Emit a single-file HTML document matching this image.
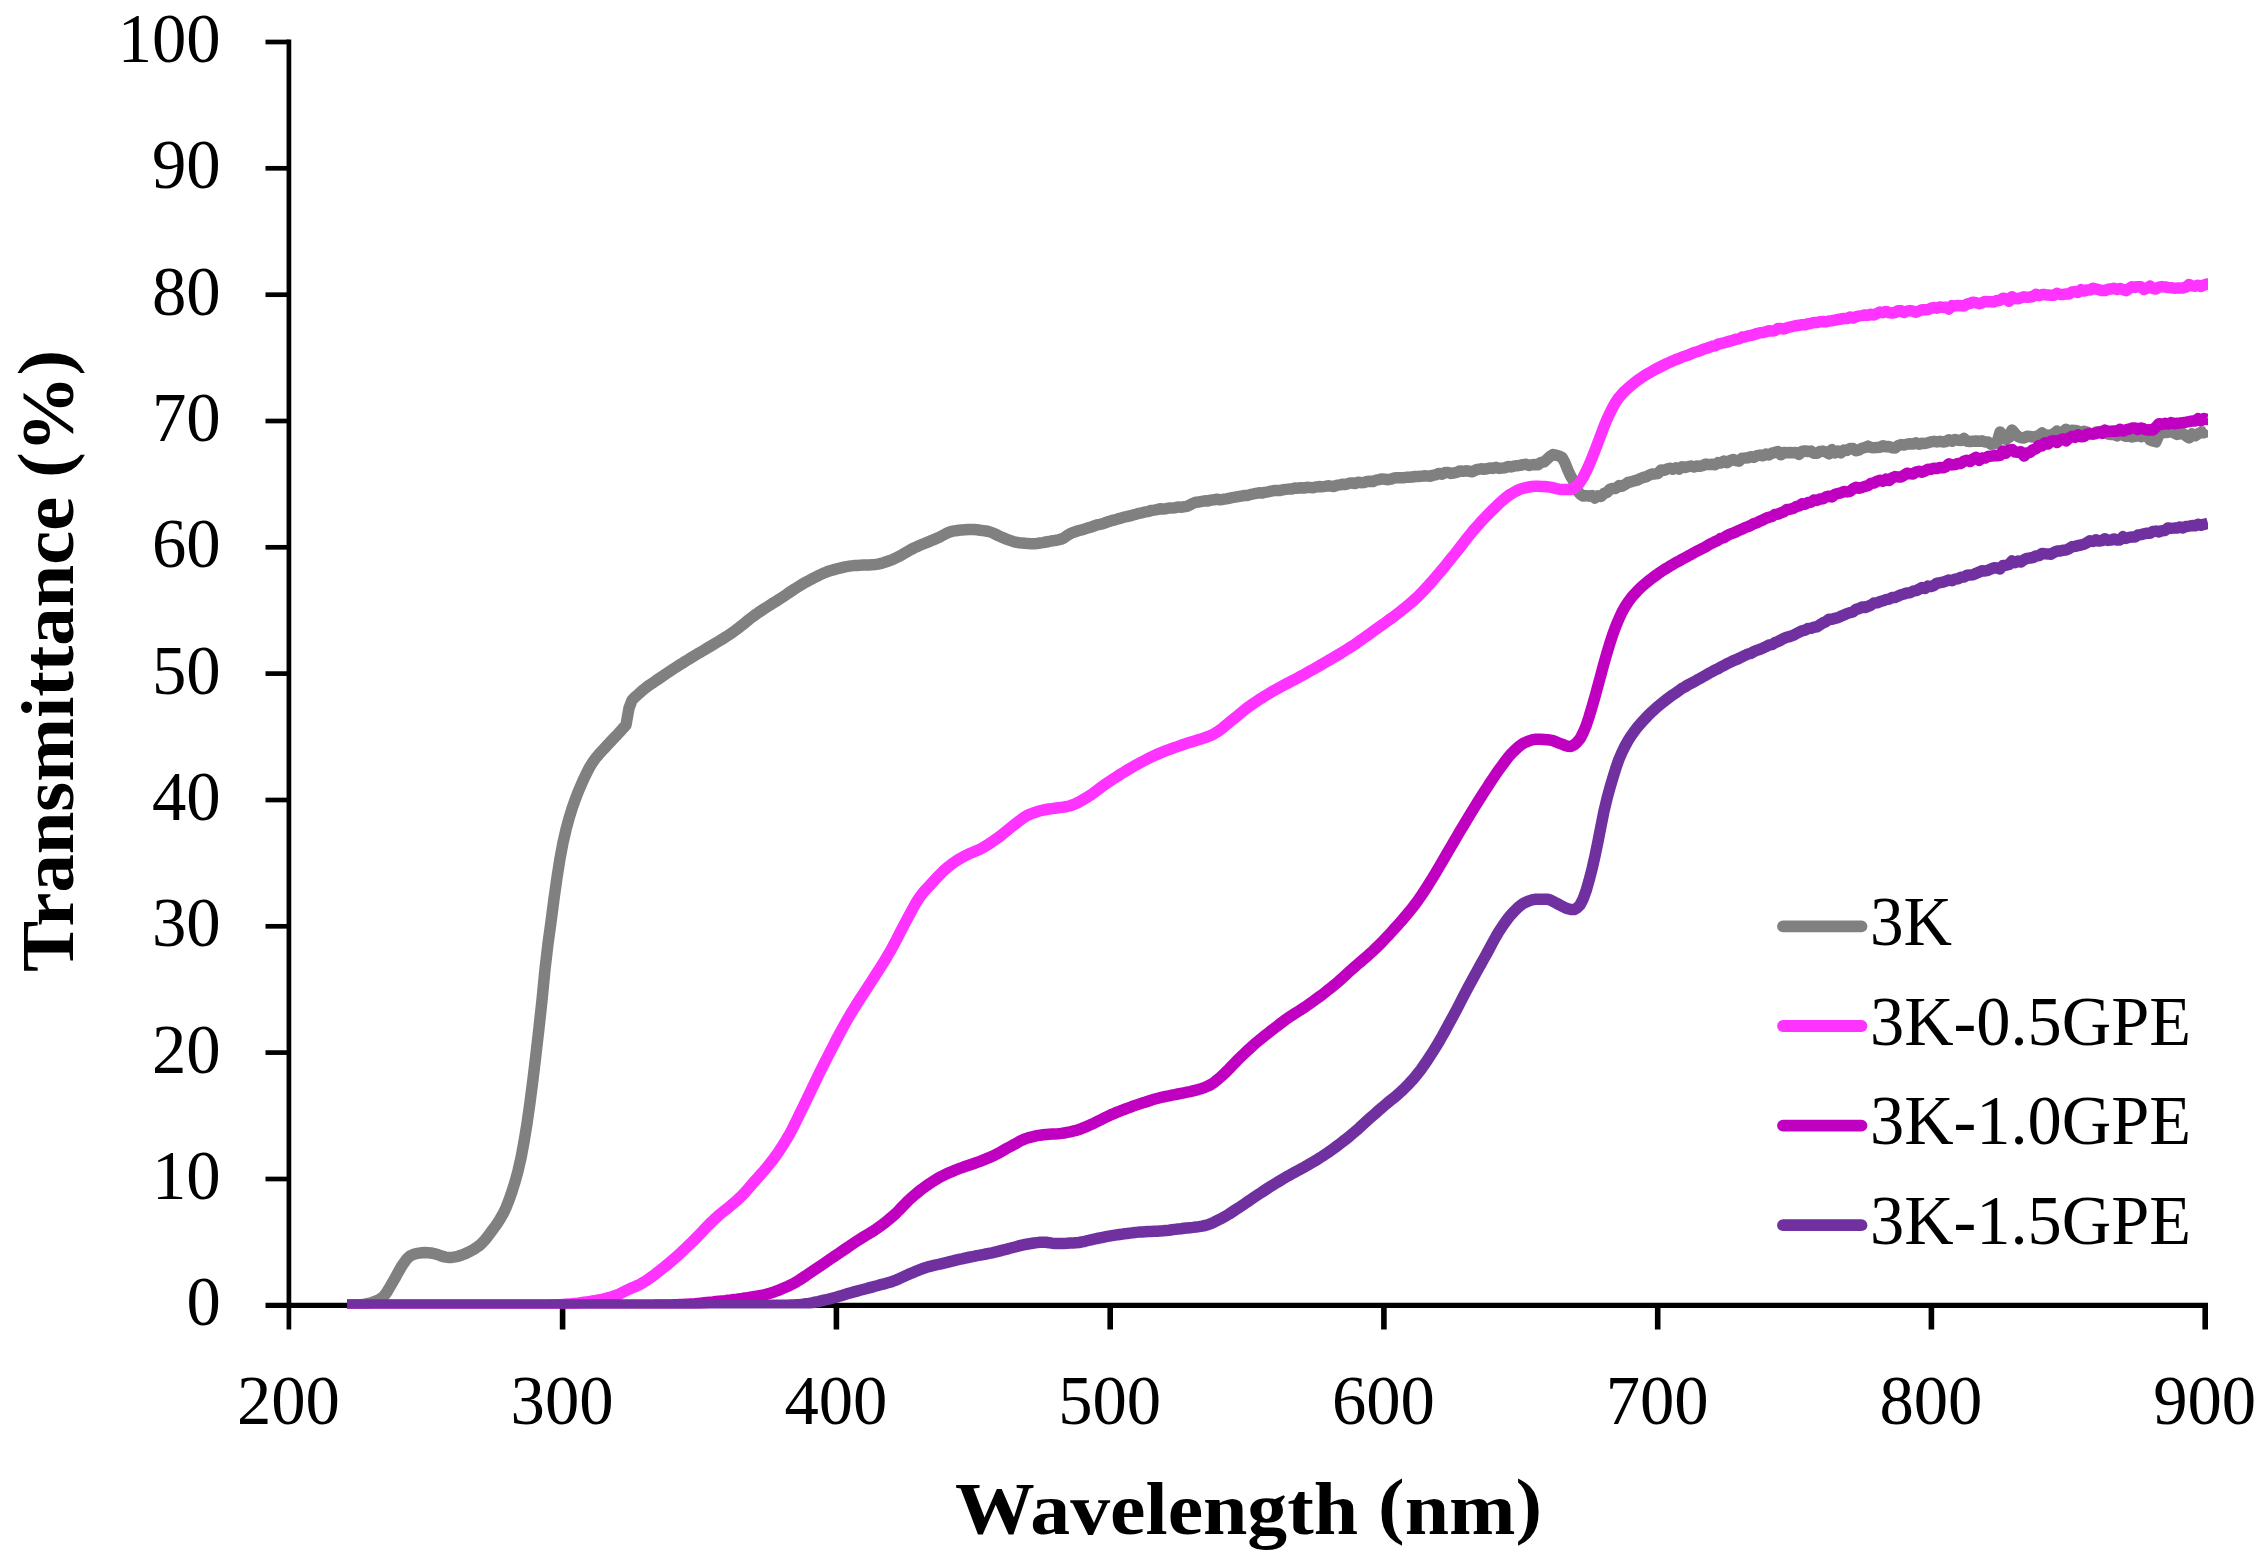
<!DOCTYPE html>
<html lang="en"><head><meta charset="utf-8"><title>Transmittance vs Wavelength</title>
<style>
html,body{margin:0;padding:0;background:#fff;}
body{width:2264px;height:1566px;overflow:hidden;}
svg{display:block;}
text{font-family:"Liberation Serif",serif;fill:#000;}
.tick{font-size:69px;}
.ttl{font-size:75px;font-weight:bold;}
.ax{stroke:#000;stroke-width:4.7;fill:none;}
.c{fill:none;stroke-width:11.5;stroke-linejoin:round;stroke-linecap:butt;}
.lg{stroke-width:11.8;stroke-linecap:round;}
</style></head><body>
<svg width="2264" height="1566" viewBox="0 0 2264 1566">
<rect width="2264" height="1566" fill="#fff"/>
<defs><clipPath id="plot"><rect x="347" y="0" width="1861" height="1308.4"/></clipPath></defs>
<path class="ax" d="M288.9,39.5 V1329.5"/>
<path class="ax" style="stroke-width:5.3" d="M265.5,1305.3 H2208.0"/>
<path class="ax" d="M265.5,1179.0 H288.9"/>
<path class="ax" d="M265.5,1052.6 H288.9"/>
<path class="ax" d="M265.5,926.3 H288.9"/>
<path class="ax" d="M265.5,800.0 H288.9"/>
<path class="ax" d="M265.5,673.6 H288.9"/>
<path class="ax" d="M265.5,547.3 H288.9"/>
<path class="ax" d="M265.5,421.0 H288.9"/>
<path class="ax" d="M265.5,294.7 H288.9"/>
<path class="ax" d="M265.5,168.3 H288.9"/>
<path class="ax" d="M265.5,42.0 H288.9"/>
<path class="ax" style="stroke-width:5.6" d="M562.6,1305.3 V1329.5"/>
<path class="ax" style="stroke-width:5.6" d="M836.4,1305.3 V1329.5"/>
<path class="ax" style="stroke-width:5.6" d="M1110.2,1305.3 V1329.5"/>
<path class="ax" style="stroke-width:5.6" d="M1383.9,1305.3 V1329.5"/>
<path class="ax" style="stroke-width:5.6" d="M1657.7,1305.3 V1329.5"/>
<path class="ax" style="stroke-width:5.6" d="M1931.4,1305.3 V1329.5"/>
<path class="ax" style="stroke-width:5.6" d="M2205.2,1305.3 V1329.5"/>
<text class="tick" x="186.4" y="1325.3" textLength="34.3" lengthAdjust="spacingAndGlyphs">0</text>
<text class="tick" x="152.0" y="1199.0" textLength="68.7" lengthAdjust="spacingAndGlyphs">10</text>
<text class="tick" x="152.0" y="1072.6" textLength="68.7" lengthAdjust="spacingAndGlyphs">20</text>
<text class="tick" x="152.0" y="946.3" textLength="68.7" lengthAdjust="spacingAndGlyphs">30</text>
<text class="tick" x="152.0" y="820.0" textLength="68.7" lengthAdjust="spacingAndGlyphs">40</text>
<text class="tick" x="152.0" y="693.6" textLength="68.7" lengthAdjust="spacingAndGlyphs">50</text>
<text class="tick" x="152.0" y="567.3" textLength="68.7" lengthAdjust="spacingAndGlyphs">60</text>
<text class="tick" x="152.0" y="441.0" textLength="68.7" lengthAdjust="spacingAndGlyphs">70</text>
<text class="tick" x="152.0" y="314.7" textLength="68.7" lengthAdjust="spacingAndGlyphs">80</text>
<text class="tick" x="152.0" y="188.3" textLength="68.7" lengthAdjust="spacingAndGlyphs">90</text>
<text class="tick" x="117.7" y="62.0" textLength="103" lengthAdjust="spacingAndGlyphs">100</text>
<text class="tick" x="236.9" y="1424" textLength="103" lengthAdjust="spacingAndGlyphs">200</text>
<text class="tick" x="510.6" y="1424" textLength="103" lengthAdjust="spacingAndGlyphs">300</text>
<text class="tick" x="784.4" y="1424" textLength="103" lengthAdjust="spacingAndGlyphs">400</text>
<text class="tick" x="1058.2" y="1424" textLength="103" lengthAdjust="spacingAndGlyphs">500</text>
<text class="tick" x="1331.9" y="1424" textLength="103" lengthAdjust="spacingAndGlyphs">600</text>
<text class="tick" x="1605.7" y="1424" textLength="103" lengthAdjust="spacingAndGlyphs">700</text>
<text class="tick" x="1879.4" y="1424" textLength="103" lengthAdjust="spacingAndGlyphs">800</text>
<text class="tick" x="2153.2" y="1424" textLength="103" lengthAdjust="spacingAndGlyphs">900</text>
<text class="ttl" x="955" y="1534" textLength="587" lengthAdjust="spacingAndGlyphs">Wavelength <tspan dy="-4">(</tspan><tspan dy="4">nm</tspan><tspan dy="-4">)</tspan></text>
<text class="ttl" transform="translate(73,972) rotate(-90)" x="0" y="0" textLength="622" lengthAdjust="spacingAndGlyphs">Transmittance <tspan dy="-4">(</tspan><tspan dy="4">%</tspan><tspan dy="-4">)</tspan></text>
<g clip-path="url(#plot)">
<path class="c" stroke="#808080" d="M347.0,1305.3 L350.0,1305.3 L353.0,1305.1 L356.0,1305.0 L359.0,1304.8 L362.0,1304.5 L365.0,1304.1 L368.0,1303.5 L371.0,1302.7 L374.0,1301.8 L377.0,1300.6 L380.0,1299.1 L383.0,1297.1 L386.0,1293.4 L389.0,1288.5 L392.0,1283.3 L395.0,1278.2 L398.0,1272.6 L401.0,1267.3 L404.0,1262.8 L407.0,1258.7 L410.0,1256.0 L413.0,1254.6 L416.0,1253.7 L419.0,1253.1 L422.0,1252.7 L425.0,1252.5 L428.0,1252.7 L431.0,1253.0 L434.0,1253.6 L437.0,1254.3 L440.0,1255.5 L443.0,1256.5 L446.0,1257.1 L449.0,1257.5 L452.0,1257.4 L455.0,1256.9 L458.0,1256.3 L461.0,1255.3 L464.0,1254.2 L467.0,1252.9 L470.0,1251.4 L473.0,1249.8 L476.0,1247.9 L479.0,1245.8 L482.0,1243.2 L485.0,1239.9 L488.0,1236.1 L491.0,1232.0 L494.0,1228.0 L497.0,1223.8 L500.0,1219.2 L503.0,1213.9 L506.0,1207.7 L509.0,1200.1 L512.0,1191.5 L515.0,1181.9 L518.0,1170.9 L521.0,1157.9 L524.0,1141.9 L527.0,1123.6 L530.0,1102.5 L533.0,1079.2 L536.0,1054.0 L539.0,1027.8 L542.0,1000.1 L545.0,969.2 L548.0,943.6 L551.0,921.9 L554.0,898.8 L557.0,877.5 L560.0,858.5 L563.0,842.6 L566.0,829.6 L569.0,818.4 L572.0,808.7 L575.0,800.1 L578.0,792.3 L581.0,785.2 L584.0,778.4 L587.0,772.2 L590.0,766.5 L593.0,761.8 L596.0,757.7 L599.0,754.2 L602.0,750.9 L605.0,747.7 L608.0,744.4 L611.0,741.2 L614.0,738.1 L617.0,735.0 L620.0,731.7 L623.0,728.2 L626.0,725.0 L629.0,708.1 L632.0,700.2 L635.0,697.1 L638.0,694.5 L641.0,691.8 L644.0,689.2 L647.0,686.9 L650.0,684.7 L653.0,682.7 L656.0,680.6 L659.0,678.6 L662.0,676.6 L665.0,674.5 L668.0,672.5 L671.0,670.5 L674.0,668.5 L677.0,666.6 L680.0,664.7 L683.0,662.8 L686.0,660.9 L689.0,659.1 L692.0,657.2 L695.0,655.4 L698.0,653.6 L701.0,651.9 L704.0,650.1 L707.0,648.3 L710.0,646.5 L713.0,644.7 L716.0,642.9 L719.0,641.1 L722.0,639.3 L725.0,637.4 L728.0,635.5 L731.0,633.5 L734.0,631.4 L737.0,629.2 L740.0,626.8 L743.0,624.4 L746.0,622.0 L749.0,619.5 L752.0,617.2 L755.0,615.0 L758.0,612.9 L761.0,610.9 L764.0,608.9 L767.0,607.0 L770.0,605.1 L773.0,603.2 L776.0,601.3 L779.0,599.4 L782.0,597.5 L785.0,595.5 L788.0,593.4 L791.0,591.4 L794.0,589.4 L797.0,587.5 L800.0,585.6 L803.0,583.8 L806.0,582.1 L809.0,580.5 L812.0,578.9 L815.0,577.3 L818.0,575.8 L821.0,574.4 L824.0,573.0 L827.0,571.8 L830.0,570.8 L833.0,569.9 L836.0,569.1 L839.0,568.3 L842.0,567.6 L845.0,566.9 L848.0,566.4 L851.0,565.9 L854.0,565.6 L857.0,565.4 L860.0,565.2 L863.0,565.1 L866.0,565.0 L869.0,564.9 L872.0,564.7 L875.0,564.5 L878.0,564.1 L881.0,563.4 L884.0,562.5 L887.0,561.5 L890.0,560.5 L893.0,559.3 L896.0,557.9 L899.0,556.4 L902.0,554.7 L905.0,552.9 L908.0,551.2 L911.0,549.5 L914.0,548.0 L917.0,546.6 L920.0,545.3 L923.0,544.0 L926.0,542.8 L929.0,541.6 L932.0,540.3 L935.0,539.1 L938.0,537.8 L941.0,536.3 L944.0,534.7 L947.0,533.1 L950.0,531.9 L953.0,531.2 L956.0,530.7 L959.0,530.3 L962.0,529.9 L965.0,529.7 L968.0,529.5 L971.0,529.5 L974.0,529.6 L977.0,529.8 L980.0,530.2 L983.0,530.6 L986.0,531.0 L989.0,531.6 L992.0,532.6 L995.0,534.0 L998.0,535.5 L1001.0,536.9 L1004.0,538.1 L1007.0,539.3 L1010.0,540.4 L1013.0,541.4 L1016.0,542.3 L1019.0,542.7 L1022.0,543.1 L1025.0,543.3 L1028.0,543.6 L1031.0,543.7 L1034.0,543.7 L1037.0,543.5 L1040.0,543.0 L1043.0,542.6 L1046.0,542.0 L1049.0,541.5 L1052.0,540.8 L1055.0,540.5 L1058.0,539.9 L1061.0,539.2 L1064.0,537.9 L1067.0,535.7 L1070.0,533.8 L1073.0,532.5 L1076.0,531.5 L1079.0,530.5 L1082.0,529.8 L1085.0,528.9 L1088.0,527.8 L1091.0,527.1 L1094.0,526.0 L1097.0,524.9 L1100.0,524.3 L1103.0,523.6 L1106.0,522.5 L1109.0,521.4 L1112.0,520.5 L1115.0,519.9 L1118.0,518.9 L1121.0,518.1 L1124.0,517.2 L1127.0,516.5 L1130.0,515.9 L1133.0,515.0 L1136.0,514.2 L1139.0,513.3 L1142.0,512.8 L1145.0,511.9 L1148.0,511.6 L1151.0,510.5 L1154.0,510.1 L1157.0,509.6 L1160.0,508.8 L1163.0,509.0 L1166.0,508.7 L1169.0,508.0 L1172.0,508.0 L1175.0,507.8 L1178.0,506.9 L1181.0,507.2 L1184.0,506.8 L1187.0,506.4 L1190.0,504.9 L1193.0,503.3 L1196.0,502.2 L1199.0,502.0 L1202.0,501.3 L1205.0,500.8 L1208.0,500.9 L1211.0,500.1 L1214.0,499.8 L1217.0,499.2 L1220.0,499.8 L1223.0,499.3 L1226.0,498.9 L1229.0,498.3 L1232.0,497.7 L1235.0,497.2 L1238.0,496.6 L1241.0,496.1 L1244.0,495.6 L1247.0,495.5 L1250.0,494.7 L1253.0,494.0 L1256.0,493.3 L1259.0,492.8 L1262.0,493.1 L1265.0,492.3 L1268.0,491.8 L1271.0,491.2 L1274.0,490.6 L1277.0,490.5 L1280.0,490.5 L1283.0,489.7 L1286.0,489.4 L1289.0,489.1 L1292.0,488.9 L1295.0,488.0 L1298.0,488.2 L1301.0,487.7 L1304.0,488.1 L1307.0,487.3 L1310.0,487.6 L1313.0,487.8 L1316.0,486.9 L1319.0,486.6 L1322.0,486.7 L1325.0,486.4 L1328.0,485.8 L1331.0,486.1 L1334.0,486.5 L1337.0,485.2 L1340.0,484.9 L1343.0,484.2 L1346.0,484.4 L1349.0,483.3 L1352.0,482.9 L1355.0,483.6 L1358.0,482.2 L1361.0,482.7 L1364.0,482.5 L1367.0,481.5 L1370.0,481.2 L1373.0,481.5 L1376.0,480.1 L1379.0,479.6 L1382.0,478.9 L1385.0,479.3 L1388.0,479.7 L1391.0,479.2 L1394.0,478.0 L1397.0,477.8 L1400.0,477.7 L1403.0,477.8 L1406.0,477.3 L1409.0,477.3 L1412.0,477.1 L1415.0,476.5 L1418.0,476.4 L1421.0,476.3 L1424.0,475.8 L1427.0,475.9 L1430.0,476.3 L1433.0,475.3 L1436.0,474.7 L1439.0,473.4 L1442.0,474.2 L1445.0,472.6 L1448.0,472.5 L1451.0,473.4 L1454.0,473.0 L1457.0,472.2 L1460.0,470.9 L1463.0,471.3 L1466.0,470.8 L1469.0,471.2 L1472.0,471.8 L1475.0,470.3 L1478.0,469.3 L1481.0,468.8 L1484.0,469.2 L1487.0,468.8 L1490.0,467.9 L1493.0,468.4 L1496.0,467.3 L1499.0,468.4 L1502.0,468.1 L1505.0,467.8 L1508.0,466.5 L1511.0,466.9 L1514.0,466.2 L1517.0,465.7 L1520.0,465.4 L1523.0,464.6 L1526.0,464.3 L1529.0,465.5 L1532.0,464.7 L1535.0,464.6 L1538.0,464.8 L1541.0,462.4 L1544.0,461.9 L1547.0,459.2 L1550.0,456.5 L1553.0,454.5 L1556.0,455.2 L1559.0,456.0 L1562.0,457.4 L1565.0,462.8 L1568.0,470.3 L1571.0,476.8 L1574.0,481.6 L1577.0,490.3 L1580.0,493.9 L1583.0,495.9 L1586.0,495.7 L1589.0,496.2 L1592.0,495.6 L1595.0,498.1 L1598.0,495.7 L1601.0,496.5 L1604.0,493.5 L1607.0,492.4 L1610.0,489.1 L1613.0,488.5 L1616.0,488.4 L1619.0,485.6 L1622.0,486.3 L1625.0,484.6 L1628.0,482.5 L1631.0,481.9 L1634.0,480.9 L1637.0,480.2 L1640.0,478.8 L1643.0,477.5 L1646.0,476.9 L1649.0,475.3 L1652.0,474.0 L1655.0,473.9 L1658.0,473.5 L1661.0,470.1 L1664.0,470.3 L1667.0,469.1 L1670.0,468.2 L1673.0,469.3 L1676.0,467.7 L1679.0,469.1 L1682.0,466.8 L1685.0,467.5 L1688.0,466.7 L1691.0,466.0 L1694.0,466.9 L1697.0,466.0 L1700.0,466.3 L1703.0,465.4 L1706.0,464.1 L1709.0,464.6 L1712.0,464.3 L1715.0,464.7 L1718.0,462.6 L1721.0,463.0 L1724.0,461.0 L1727.0,462.7 L1730.0,460.7 L1733.0,459.5 L1736.0,460.6 L1739.0,461.2 L1742.0,458.2 L1745.0,458.0 L1748.0,457.7 L1751.0,456.7 L1754.0,457.4 L1757.0,455.6 L1760.0,455.1 L1763.0,455.8 L1766.0,454.1 L1769.0,454.9 L1772.0,453.1 L1775.0,452.5 L1778.0,451.5 L1781.0,454.8 L1784.0,452.4 L1787.0,452.8 L1790.0,452.5 L1793.0,452.7 L1796.0,452.5 L1799.0,454.4 L1802.0,451.5 L1805.0,450.9 L1808.0,451.5 L1811.0,451.1 L1814.0,453.3 L1817.0,453.3 L1820.0,451.5 L1823.0,451.1 L1826.0,452.1 L1829.0,453.9 L1832.0,449.6 L1835.0,452.9 L1838.0,451.0 L1841.0,452.8 L1844.0,450.1 L1847.0,450.4 L1850.0,448.5 L1853.0,448.6 L1856.0,450.8 L1859.0,449.9 L1862.0,448.3 L1865.0,447.5 L1868.0,446.1 L1871.0,447.5 L1874.0,447.7 L1877.0,447.4 L1880.0,447.2 L1883.0,445.8 L1886.0,446.8 L1889.0,446.5 L1892.0,447.8 L1895.0,448.1 L1898.0,445.6 L1901.0,444.6 L1904.0,445.1 L1907.0,444.1 L1910.0,443.7 L1913.0,444.1 L1916.0,442.7 L1919.0,444.3 L1922.0,443.3 L1925.0,443.5 L1928.0,442.7 L1931.0,441.8 L1934.0,441.3 L1937.0,441.9 L1940.0,441.3 L1943.0,442.0 L1946.0,441.5 L1949.0,439.7 L1952.0,441.3 L1955.0,439.5 L1958.0,440.3 L1961.0,440.6 L1964.0,438.5 L1967.0,441.2 L1970.0,441.4 L1973.0,441.2 L1976.0,441.0 L1979.0,441.3 L1982.0,440.8 L1985.0,442.0 L1988.0,442.0 L1991.0,444.3 L1994.0,444.1 L1997.0,442.3 L2000.0,432.0 L2003.0,435.1 L2006.0,439.4 L2009.0,437.5 L2012.0,430.0 L2015.0,433.5 L2018.0,436.5 L2021.0,437.8 L2024.0,437.9 L2027.0,436.3 L2030.0,436.5 L2033.0,437.1 L2036.0,436.4 L2039.0,435.6 L2042.0,432.9 L2045.0,435.0 L2048.0,435.4 L2051.0,434.8 L2054.0,433.6 L2057.0,431.1 L2060.0,434.0 L2063.0,432.5 L2066.0,429.3 L2069.0,432.8 L2072.0,430.3 L2075.0,430.4 L2078.0,431.1 L2081.0,433.4 L2084.0,431.3 L2087.0,432.0 L2090.0,433.9 L2093.0,433.9 L2096.0,432.0 L2099.0,432.2 L2102.0,431.2 L2105.0,432.3 L2108.0,434.1 L2111.0,434.5 L2114.0,434.5 L2117.0,435.9 L2120.0,434.0 L2123.0,435.1 L2126.0,436.3 L2129.0,436.2 L2132.0,437.0 L2135.0,436.3 L2138.0,435.6 L2141.0,436.7 L2144.0,435.3 L2147.0,435.2 L2150.0,439.9 L2153.0,441.0 L2156.0,441.8 L2159.0,434.7 L2162.0,432.8 L2165.0,432.6 L2168.0,432.2 L2171.0,430.5 L2174.0,432.9 L2177.0,434.4 L2180.0,433.9 L2183.0,433.6 L2186.0,435.7 L2189.0,437.9 L2192.0,434.0 L2195.0,435.8 L2198.0,433.9 L2201.0,432.3 L2204.0,432.7 L2207.0,431.5 L2208.0,430.4"/>
<path class="c" stroke="#ff33ff" d="M347.0,1305.3 L350.0,1305.3 L353.0,1305.3 L356.0,1305.3 L359.0,1305.3 L362.0,1305.3 L365.0,1305.3 L368.0,1305.3 L371.0,1305.3 L374.0,1305.3 L377.0,1305.3 L380.0,1305.3 L383.0,1305.3 L386.0,1305.3 L389.0,1305.3 L392.0,1305.3 L395.0,1305.3 L398.0,1305.3 L401.0,1305.3 L404.0,1305.3 L407.0,1305.3 L410.0,1305.3 L413.0,1305.3 L416.0,1305.3 L419.0,1305.3 L422.0,1305.3 L425.0,1305.3 L428.0,1305.3 L431.0,1305.3 L434.0,1305.3 L437.0,1305.3 L440.0,1305.3 L443.0,1305.3 L446.0,1305.3 L449.0,1305.3 L452.0,1305.3 L455.0,1305.3 L458.0,1305.3 L461.0,1305.3 L464.0,1305.3 L467.0,1305.3 L470.0,1305.3 L473.0,1305.3 L476.0,1305.3 L479.0,1305.3 L482.0,1305.3 L485.0,1305.3 L488.0,1305.3 L491.0,1305.3 L494.0,1305.3 L497.0,1305.3 L500.0,1305.3 L503.0,1305.3 L506.0,1305.3 L509.0,1305.3 L512.0,1305.3 L515.0,1305.3 L518.0,1305.3 L521.0,1305.3 L524.0,1305.3 L527.0,1305.3 L530.0,1305.3 L533.0,1305.3 L536.0,1305.3 L539.0,1305.3 L542.0,1305.3 L545.0,1305.3 L548.0,1305.2 L551.0,1305.1 L554.0,1305.0 L557.0,1304.8 L560.0,1304.7 L563.0,1304.5 L566.0,1304.3 L569.0,1304.1 L572.0,1303.8 L575.0,1303.4 L578.0,1303.1 L581.0,1302.7 L584.0,1302.3 L587.0,1301.9 L590.0,1301.5 L593.0,1301.0 L596.0,1300.5 L599.0,1299.9 L602.0,1299.3 L605.0,1298.6 L608.0,1297.8 L611.0,1297.0 L614.0,1296.1 L617.0,1295.0 L620.0,1293.7 L623.0,1292.2 L626.0,1290.7 L629.0,1289.2 L632.0,1287.8 L635.0,1286.6 L638.0,1285.3 L641.0,1283.8 L644.0,1282.0 L647.0,1280.1 L650.0,1278.0 L653.0,1275.8 L656.0,1273.6 L659.0,1271.2 L662.0,1268.8 L665.0,1266.5 L668.0,1264.0 L671.0,1261.5 L674.0,1258.9 L677.0,1256.2 L680.0,1253.5 L683.0,1250.7 L686.0,1247.9 L689.0,1245.0 L692.0,1242.1 L695.0,1239.1 L698.0,1236.0 L701.0,1232.9 L704.0,1229.7 L707.0,1226.6 L710.0,1223.5 L713.0,1220.6 L716.0,1217.8 L719.0,1215.2 L722.0,1212.7 L725.0,1210.3 L728.0,1207.9 L731.0,1205.4 L734.0,1202.9 L737.0,1200.3 L740.0,1197.5 L743.0,1194.4 L746.0,1191.2 L749.0,1187.8 L752.0,1184.3 L755.0,1180.9 L758.0,1177.5 L761.0,1174.1 L764.0,1170.7 L767.0,1167.1 L770.0,1163.4 L773.0,1159.6 L776.0,1155.5 L779.0,1151.2 L782.0,1146.6 L785.0,1141.8 L788.0,1136.8 L791.0,1131.5 L794.0,1125.6 L797.0,1119.5 L800.0,1113.3 L803.0,1107.2 L806.0,1101.0 L809.0,1094.7 L812.0,1088.5 L815.0,1082.2 L818.0,1076.0 L821.0,1069.9 L824.0,1063.9 L827.0,1058.0 L830.0,1052.1 L833.0,1046.3 L836.0,1040.5 L839.0,1034.8 L842.0,1029.2 L845.0,1023.8 L848.0,1018.4 L851.0,1013.3 L854.0,1008.4 L857.0,1003.6 L860.0,999.0 L863.0,994.4 L866.0,989.8 L869.0,985.2 L872.0,980.5 L875.0,975.8 L878.0,971.2 L881.0,966.5 L884.0,961.7 L887.0,956.8 L890.0,951.7 L893.0,946.3 L896.0,940.6 L899.0,934.7 L902.0,928.9 L905.0,923.1 L908.0,917.6 L911.0,912.0 L914.0,906.4 L917.0,901.2 L920.0,896.7 L923.0,892.8 L926.0,889.4 L929.0,886.2 L932.0,883.0 L935.0,879.7 L938.0,876.5 L941.0,873.4 L944.0,870.4 L947.0,867.8 L950.0,865.4 L953.0,863.2 L956.0,861.1 L959.0,859.2 L962.0,857.5 L965.0,855.8 L968.0,854.3 L971.0,853.0 L974.0,851.8 L977.0,850.5 L980.0,849.2 L983.0,847.6 L986.0,845.8 L989.0,843.9 L992.0,841.9 L995.0,839.8 L998.0,837.7 L1001.0,835.5 L1004.0,833.1 L1007.0,830.6 L1010.0,828.1 L1013.0,825.7 L1016.0,823.5 L1019.0,821.1 L1022.0,818.9 L1025.0,816.8 L1028.0,815.1 L1031.0,813.8 L1034.0,812.7 L1037.0,811.7 L1040.0,810.8 L1043.0,810.1 L1046.0,809.5 L1049.0,809.0 L1052.0,808.6 L1055.0,808.2 L1058.0,807.8 L1061.0,807.4 L1064.0,807.0 L1067.0,806.5 L1070.0,805.8 L1073.0,804.8 L1076.0,803.5 L1079.0,802.0 L1082.0,800.3 L1085.0,798.5 L1088.0,796.7 L1091.0,794.8 L1094.0,792.6 L1097.0,790.4 L1100.0,788.1 L1103.0,785.9 L1106.0,783.8 L1109.0,781.8 L1112.0,779.8 L1115.0,777.8 L1118.0,775.9 L1121.0,773.9 L1124.0,772.1 L1127.0,770.3 L1130.0,768.5 L1133.0,766.8 L1136.0,765.1 L1139.0,763.4 L1142.0,761.8 L1145.0,760.2 L1148.0,758.6 L1151.0,757.1 L1154.0,755.7 L1157.0,754.4 L1160.0,753.1 L1163.0,751.9 L1166.0,750.7 L1169.0,749.6 L1172.0,748.5 L1175.0,747.4 L1178.0,746.4 L1181.0,745.3 L1184.0,744.3 L1187.0,743.2 L1190.0,742.3 L1193.0,741.4 L1196.0,740.5 L1199.0,739.6 L1202.0,738.7 L1205.0,737.6 L1208.0,736.5 L1211.0,735.3 L1214.0,733.8 L1217.0,732.1 L1220.0,730.0 L1223.0,727.7 L1226.0,725.2 L1229.0,722.7 L1232.0,720.2 L1235.0,717.9 L1238.0,715.4 L1241.0,712.9 L1244.0,710.4 L1247.0,708.0 L1250.0,705.8 L1253.0,703.7 L1256.0,701.7 L1259.0,699.7 L1262.0,697.8 L1265.0,695.9 L1268.0,694.1 L1271.0,692.3 L1274.0,690.6 L1277.0,688.9 L1280.0,687.2 L1283.0,685.6 L1286.0,684.0 L1289.0,682.5 L1292.0,680.9 L1295.0,679.4 L1298.0,677.8 L1301.0,676.1 L1304.0,674.5 L1307.0,672.8 L1310.0,671.1 L1313.0,669.4 L1316.0,667.7 L1319.0,666.0 L1322.0,664.2 L1325.0,662.5 L1328.0,660.8 L1331.0,659.0 L1334.0,657.3 L1337.0,655.5 L1340.0,653.7 L1343.0,651.9 L1346.0,650.0 L1349.0,648.1 L1352.0,646.2 L1355.0,644.2 L1358.0,642.1 L1361.0,640.0 L1364.0,637.9 L1367.0,635.8 L1370.0,633.6 L1373.0,631.4 L1376.0,629.3 L1379.0,627.1 L1382.0,625.0 L1385.0,622.9 L1388.0,620.7 L1391.0,618.5 L1394.0,616.3 L1397.0,614.0 L1400.0,611.7 L1403.0,609.3 L1406.0,606.9 L1409.0,604.4 L1412.0,601.8 L1415.0,599.2 L1418.0,596.3 L1421.0,593.4 L1424.0,590.2 L1427.0,587.0 L1430.0,583.6 L1433.0,580.2 L1436.0,576.8 L1439.0,573.3 L1442.0,569.7 L1445.0,566.1 L1448.0,562.4 L1451.0,558.7 L1454.0,555.0 L1457.0,551.2 L1460.0,547.4 L1463.0,543.5 L1466.0,539.6 L1469.0,535.8 L1472.0,532.1 L1475.0,528.6 L1478.0,525.2 L1481.0,521.8 L1484.0,518.6 L1487.0,515.5 L1490.0,512.4 L1493.0,509.5 L1496.0,506.6 L1499.0,503.7 L1502.0,500.9 L1505.0,498.3 L1508.0,495.9 L1511.0,493.9 L1514.0,492.2 L1517.0,490.6 L1520.0,489.3 L1523.0,488.3 L1526.0,487.6 L1529.0,487.0 L1532.0,486.5 L1535.0,486.3 L1538.0,486.3 L1541.0,486.4 L1544.0,486.5 L1547.0,486.8 L1550.0,487.1 L1553.0,487.7 L1556.0,488.6 L1559.0,489.2 L1562.0,489.4 L1565.0,489.4 L1568.0,489.4 L1571.0,489.4 L1574.0,488.3 L1577.0,485.6 L1580.0,482.3 L1583.0,477.5 L1586.0,471.7 L1589.0,465.3 L1592.0,458.0 L1595.0,450.4 L1598.0,442.5 L1601.0,434.5 L1604.0,426.5 L1607.0,419.3 L1610.0,412.9 L1613.0,406.9 L1616.0,401.7 L1619.0,397.4 L1622.0,393.9 L1625.0,390.9 L1628.0,388.1 L1631.0,385.6 L1634.0,383.1 L1637.0,380.8 L1640.0,378.7 L1643.0,376.6 L1646.0,374.7 L1649.0,372.9 L1652.0,371.2 L1655.0,369.5 L1658.0,368.0 L1661.0,366.5 L1664.0,365.0 L1667.0,363.5 L1670.0,362.1 L1673.0,360.9 L1676.0,359.5 L1679.0,358.5 L1682.0,357.1 L1685.0,356.1 L1688.0,355.1 L1691.0,353.9 L1694.0,352.5 L1697.0,351.7 L1700.0,350.8 L1703.0,349.4 L1706.0,348.4 L1709.0,347.5 L1712.0,346.3 L1715.0,345.9 L1718.0,344.2 L1721.0,343.5 L1724.0,342.8 L1727.0,341.9 L1730.0,341.1 L1733.0,340.3 L1736.0,339.3 L1739.0,338.9 L1742.0,337.1 L1745.0,336.9 L1748.0,335.9 L1751.0,335.4 L1754.0,334.6 L1757.0,333.5 L1760.0,332.8 L1763.0,332.6 L1766.0,331.7 L1769.0,330.7 L1772.0,331.1 L1775.0,330.6 L1778.0,328.5 L1781.0,328.6 L1784.0,329.0 L1787.0,327.8 L1790.0,327.0 L1793.0,326.3 L1796.0,325.7 L1799.0,325.3 L1802.0,324.7 L1805.0,324.8 L1808.0,323.8 L1811.0,323.3 L1814.0,322.4 L1817.0,322.6 L1820.0,321.7 L1823.0,321.6 L1826.0,321.8 L1829.0,321.0 L1832.0,320.7 L1835.0,320.1 L1838.0,319.5 L1841.0,319.0 L1844.0,318.4 L1847.0,318.6 L1850.0,317.0 L1853.0,318.1 L1856.0,316.8 L1859.0,315.9 L1862.0,315.6 L1865.0,315.0 L1868.0,315.2 L1871.0,314.2 L1874.0,315.1 L1877.0,313.4 L1880.0,312.0 L1883.0,312.7 L1886.0,311.4 L1889.0,312.6 L1892.0,313.1 L1895.0,312.5 L1898.0,310.7 L1901.0,310.8 L1904.0,312.5 L1907.0,311.1 L1910.0,310.6 L1913.0,311.2 L1916.0,312.2 L1919.0,311.0 L1922.0,309.7 L1925.0,309.7 L1928.0,309.6 L1931.0,308.2 L1934.0,307.5 L1937.0,308.2 L1940.0,306.9 L1943.0,307.4 L1946.0,307.2 L1949.0,309.0 L1952.0,305.6 L1955.0,305.9 L1958.0,305.5 L1961.0,305.7 L1964.0,306.0 L1967.0,304.1 L1970.0,303.4 L1973.0,302.2 L1976.0,302.6 L1979.0,303.7 L1982.0,302.9 L1985.0,301.4 L1988.0,301.7 L1991.0,301.8 L1994.0,301.9 L1997.0,300.4 L2000.0,300.4 L2003.0,298.3 L2006.0,298.7 L2009.0,301.3 L2012.0,296.8 L2015.0,298.5 L2018.0,298.7 L2021.0,297.7 L2024.0,296.8 L2027.0,297.3 L2030.0,297.0 L2033.0,296.5 L2036.0,294.2 L2039.0,295.7 L2042.0,294.6 L2045.0,294.6 L2048.0,295.1 L2051.0,295.2 L2054.0,295.2 L2057.0,293.3 L2060.0,294.5 L2063.0,294.4 L2066.0,294.0 L2069.0,294.0 L2072.0,291.9 L2075.0,291.6 L2078.0,292.4 L2081.0,289.6 L2084.0,291.1 L2087.0,290.0 L2090.0,290.0 L2093.0,288.2 L2096.0,289.0 L2099.0,289.8 L2102.0,290.6 L2105.0,290.6 L2108.0,289.3 L2111.0,289.0 L2114.0,288.2 L2117.0,289.5 L2120.0,288.6 L2123.0,289.5 L2126.0,290.6 L2129.0,288.6 L2132.0,286.8 L2135.0,287.4 L2138.0,286.7 L2141.0,286.8 L2144.0,289.5 L2147.0,288.2 L2150.0,286.1 L2153.0,288.4 L2156.0,289.0 L2159.0,287.1 L2162.0,286.6 L2165.0,286.9 L2168.0,287.5 L2171.0,287.7 L2174.0,288.2 L2177.0,288.1 L2180.0,287.9 L2183.0,288.0 L2186.0,287.1 L2189.0,284.5 L2192.0,285.9 L2195.0,286.2 L2198.0,285.2 L2201.0,286.5 L2204.0,284.9 L2207.0,284.0 L2208.0,286.6"/>
<path class="c" stroke="#c000c0" d="M347.0,1305.3 L350.0,1305.3 L353.0,1305.3 L356.0,1305.3 L359.0,1305.3 L362.0,1305.3 L365.0,1305.3 L368.0,1305.3 L371.0,1305.3 L374.0,1305.3 L377.0,1305.3 L380.0,1305.3 L383.0,1305.3 L386.0,1305.3 L389.0,1305.3 L392.0,1305.3 L395.0,1305.3 L398.0,1305.3 L401.0,1305.3 L404.0,1305.3 L407.0,1305.3 L410.0,1305.3 L413.0,1305.3 L416.0,1305.3 L419.0,1305.3 L422.0,1305.3 L425.0,1305.3 L428.0,1305.3 L431.0,1305.3 L434.0,1305.3 L437.0,1305.3 L440.0,1305.3 L443.0,1305.3 L446.0,1305.3 L449.0,1305.3 L452.0,1305.3 L455.0,1305.3 L458.0,1305.3 L461.0,1305.3 L464.0,1305.3 L467.0,1305.3 L470.0,1305.3 L473.0,1305.3 L476.0,1305.3 L479.0,1305.3 L482.0,1305.3 L485.0,1305.3 L488.0,1305.3 L491.0,1305.3 L494.0,1305.3 L497.0,1305.3 L500.0,1305.3 L503.0,1305.3 L506.0,1305.3 L509.0,1305.3 L512.0,1305.3 L515.0,1305.3 L518.0,1305.3 L521.0,1305.3 L524.0,1305.3 L527.0,1305.3 L530.0,1305.3 L533.0,1305.3 L536.0,1305.3 L539.0,1305.3 L542.0,1305.3 L545.0,1305.3 L548.0,1305.3 L551.0,1305.3 L554.0,1305.3 L557.0,1305.3 L560.0,1305.3 L563.0,1305.3 L566.0,1305.3 L569.0,1305.3 L572.0,1305.3 L575.0,1305.3 L578.0,1305.3 L581.0,1305.3 L584.0,1305.3 L587.0,1305.3 L590.0,1305.3 L593.0,1305.3 L596.0,1305.3 L599.0,1305.3 L602.0,1305.3 L605.0,1305.3 L608.0,1305.3 L611.0,1305.3 L614.0,1305.3 L617.0,1305.3 L620.0,1305.3 L623.0,1305.3 L626.0,1305.3 L629.0,1305.3 L632.0,1305.3 L635.0,1305.3 L638.0,1305.3 L641.0,1305.3 L644.0,1305.2 L647.0,1305.2 L650.0,1305.2 L653.0,1305.2 L656.0,1305.1 L659.0,1305.1 L662.0,1305.0 L665.0,1305.0 L668.0,1304.9 L671.0,1304.9 L674.0,1304.8 L677.0,1304.7 L680.0,1304.5 L683.0,1304.4 L686.0,1304.2 L689.0,1304.1 L692.0,1303.9 L695.0,1303.7 L698.0,1303.4 L701.0,1303.1 L704.0,1302.8 L707.0,1302.5 L710.0,1302.2 L713.0,1301.9 L716.0,1301.5 L719.0,1301.2 L722.0,1300.9 L725.0,1300.6 L728.0,1300.2 L731.0,1299.9 L734.0,1299.5 L737.0,1299.2 L740.0,1298.8 L743.0,1298.3 L746.0,1297.9 L749.0,1297.5 L752.0,1297.0 L755.0,1296.5 L758.0,1296.0 L761.0,1295.4 L764.0,1294.8 L767.0,1294.1 L770.0,1293.2 L773.0,1292.3 L776.0,1291.2 L779.0,1290.1 L782.0,1288.8 L785.0,1287.5 L788.0,1286.2 L791.0,1284.8 L794.0,1283.2 L797.0,1281.5 L800.0,1279.6 L803.0,1277.6 L806.0,1275.6 L809.0,1273.5 L812.0,1271.5 L815.0,1269.5 L818.0,1267.5 L821.0,1265.5 L824.0,1263.5 L827.0,1261.4 L830.0,1259.3 L833.0,1257.3 L836.0,1255.2 L839.0,1253.2 L842.0,1251.1 L845.0,1249.1 L848.0,1247.1 L851.0,1245.0 L854.0,1243.0 L857.0,1241.0 L860.0,1239.1 L863.0,1237.2 L866.0,1235.4 L869.0,1233.6 L872.0,1231.8 L875.0,1229.9 L878.0,1227.8 L881.0,1225.6 L884.0,1223.4 L887.0,1221.0 L890.0,1218.5 L893.0,1216.0 L896.0,1213.2 L899.0,1210.2 L902.0,1207.0 L905.0,1203.9 L908.0,1200.9 L911.0,1198.1 L914.0,1195.5 L917.0,1193.0 L920.0,1190.6 L923.0,1188.3 L926.0,1186.1 L929.0,1184.0 L932.0,1182.0 L935.0,1180.1 L938.0,1178.3 L941.0,1176.6 L944.0,1175.1 L947.0,1173.6 L950.0,1172.3 L953.0,1171.1 L956.0,1169.8 L959.0,1168.7 L962.0,1167.6 L965.0,1166.5 L968.0,1165.5 L971.0,1164.5 L974.0,1163.5 L977.0,1162.4 L980.0,1161.3 L983.0,1160.1 L986.0,1158.9 L989.0,1157.7 L992.0,1156.4 L995.0,1155.0 L998.0,1153.4 L1001.0,1151.7 L1004.0,1150.0 L1007.0,1148.3 L1010.0,1146.7 L1013.0,1145.1 L1016.0,1143.4 L1019.0,1141.7 L1022.0,1140.2 L1025.0,1138.9 L1028.0,1137.9 L1031.0,1137.1 L1034.0,1136.4 L1037.0,1135.7 L1040.0,1135.2 L1043.0,1134.8 L1046.0,1134.5 L1049.0,1134.3 L1052.0,1134.1 L1055.0,1133.9 L1058.0,1133.7 L1061.0,1133.4 L1064.0,1133.0 L1067.0,1132.4 L1070.0,1131.8 L1073.0,1131.1 L1076.0,1130.4 L1079.0,1129.5 L1082.0,1128.4 L1085.0,1127.2 L1088.0,1125.9 L1091.0,1124.5 L1094.0,1123.2 L1097.0,1121.7 L1100.0,1120.2 L1103.0,1118.6 L1106.0,1117.1 L1109.0,1115.7 L1112.0,1114.3 L1115.0,1113.1 L1118.0,1111.8 L1121.0,1110.7 L1124.0,1109.5 L1127.0,1108.4 L1130.0,1107.3 L1133.0,1106.2 L1136.0,1105.1 L1139.0,1104.1 L1142.0,1103.1 L1145.0,1102.2 L1148.0,1101.2 L1151.0,1100.2 L1154.0,1099.3 L1157.0,1098.5 L1160.0,1097.7 L1163.0,1097.0 L1166.0,1096.4 L1169.0,1095.8 L1172.0,1095.2 L1175.0,1094.6 L1178.0,1094.0 L1181.0,1093.4 L1184.0,1092.8 L1187.0,1092.2 L1190.0,1091.6 L1193.0,1090.9 L1196.0,1090.2 L1199.0,1089.3 L1202.0,1088.4 L1205.0,1087.3 L1208.0,1086.0 L1211.0,1084.5 L1214.0,1082.5 L1217.0,1080.1 L1220.0,1077.5 L1223.0,1074.9 L1226.0,1072.0 L1229.0,1069.0 L1232.0,1065.8 L1235.0,1062.7 L1238.0,1059.6 L1241.0,1056.7 L1244.0,1053.8 L1247.0,1051.0 L1250.0,1048.2 L1253.0,1045.5 L1256.0,1042.8 L1259.0,1040.3 L1262.0,1037.9 L1265.0,1035.5 L1268.0,1033.2 L1271.0,1030.8 L1274.0,1028.5 L1277.0,1026.2 L1280.0,1023.9 L1283.0,1021.6 L1286.0,1019.4 L1289.0,1017.3 L1292.0,1015.3 L1295.0,1013.4 L1298.0,1011.5 L1301.0,1009.6 L1304.0,1007.7 L1307.0,1005.6 L1310.0,1003.5 L1313.0,1001.4 L1316.0,999.2 L1319.0,997.0 L1322.0,994.8 L1325.0,992.5 L1328.0,990.1 L1331.0,987.7 L1334.0,985.3 L1337.0,982.8 L1340.0,980.2 L1343.0,977.5 L1346.0,974.7 L1349.0,971.9 L1352.0,969.2 L1355.0,966.6 L1358.0,964.0 L1361.0,961.5 L1364.0,958.9 L1367.0,956.3 L1370.0,953.6 L1373.0,950.9 L1376.0,948.0 L1379.0,945.1 L1382.0,942.1 L1385.0,938.9 L1388.0,935.8 L1391.0,932.5 L1394.0,929.2 L1397.0,925.9 L1400.0,922.5 L1403.0,919.1 L1406.0,915.6 L1409.0,912.0 L1412.0,908.2 L1415.0,904.4 L1418.0,900.3 L1421.0,896.0 L1424.0,891.5 L1427.0,886.8 L1430.0,882.0 L1433.0,877.2 L1436.0,872.3 L1439.0,867.2 L1442.0,862.1 L1445.0,856.9 L1448.0,851.7 L1451.0,846.6 L1454.0,841.5 L1457.0,836.4 L1460.0,831.2 L1463.0,826.2 L1466.0,821.2 L1469.0,816.2 L1472.0,811.3 L1475.0,806.4 L1478.0,801.6 L1481.0,796.9 L1484.0,792.2 L1487.0,787.6 L1490.0,782.9 L1493.0,778.4 L1496.0,773.9 L1499.0,769.7 L1502.0,765.6 L1505.0,761.5 L1508.0,757.6 L1511.0,754.1 L1514.0,751.0 L1517.0,748.2 L1520.0,745.6 L1523.0,743.5 L1526.0,742.1 L1529.0,740.9 L1532.0,739.9 L1535.0,739.3 L1538.0,739.2 L1541.0,739.3 L1544.0,739.5 L1547.0,739.7 L1550.0,740.0 L1553.0,740.7 L1556.0,741.9 L1559.0,743.1 L1562.0,744.2 L1565.0,745.4 L1568.0,746.3 L1571.0,746.4 L1574.0,744.9 L1577.0,742.3 L1580.0,738.8 L1583.0,733.0 L1586.0,726.0 L1589.0,717.0 L1592.0,707.0 L1595.0,696.6 L1598.0,685.6 L1601.0,674.6 L1604.0,663.3 L1607.0,652.9 L1610.0,642.9 L1613.0,633.8 L1616.0,625.8 L1619.0,618.6 L1622.0,612.1 L1625.0,606.7 L1628.0,602.2 L1631.0,598.1 L1634.0,594.6 L1637.0,591.3 L1640.0,588.3 L1643.0,585.6 L1646.0,582.9 L1649.0,580.5 L1652.0,578.2 L1655.0,576.0 L1658.0,573.8 L1661.0,571.8 L1664.0,569.8 L1667.0,568.0 L1670.0,566.1 L1673.0,564.4 L1676.0,562.5 L1679.0,561.1 L1682.0,559.3 L1685.0,557.7 L1688.0,556.1 L1691.0,554.4 L1694.0,552.7 L1697.0,551.1 L1700.0,549.7 L1703.0,548.2 L1706.0,546.6 L1709.0,544.7 L1712.0,543.2 L1715.0,541.6 L1718.0,540.4 L1721.0,538.3 L1724.0,537.6 L1727.0,535.7 L1730.0,534.2 L1733.0,533.1 L1736.0,531.9 L1739.0,530.3 L1742.0,529.2 L1745.0,527.6 L1748.0,526.6 L1751.0,525.3 L1754.0,523.6 L1757.0,522.8 L1760.0,521.1 L1763.0,519.9 L1766.0,518.3 L1769.0,517.3 L1772.0,516.5 L1775.0,514.5 L1778.0,514.1 L1781.0,512.8 L1784.0,511.6 L1787.0,509.4 L1790.0,509.2 L1793.0,508.4 L1796.0,506.7 L1799.0,506.0 L1802.0,503.8 L1805.0,504.2 L1808.0,502.5 L1811.0,502.3 L1814.0,500.0 L1817.0,500.4 L1820.0,499.0 L1823.0,498.7 L1826.0,496.9 L1829.0,496.2 L1832.0,496.9 L1835.0,494.3 L1838.0,493.5 L1841.0,492.8 L1844.0,491.5 L1847.0,491.9 L1850.0,491.4 L1853.0,488.9 L1856.0,487.3 L1859.0,488.3 L1862.0,487.4 L1865.0,486.3 L1868.0,485.6 L1871.0,483.4 L1874.0,483.0 L1877.0,481.2 L1880.0,480.3 L1883.0,481.2 L1886.0,479.1 L1889.0,480.5 L1892.0,478.0 L1895.0,476.6 L1898.0,476.9 L1901.0,477.0 L1904.0,475.2 L1907.0,473.2 L1910.0,473.8 L1913.0,474.1 L1916.0,472.0 L1919.0,471.2 L1922.0,472.2 L1925.0,470.9 L1928.0,469.2 L1931.0,469.2 L1934.0,468.2 L1937.0,468.4 L1940.0,467.5 L1943.0,467.8 L1946.0,466.6 L1949.0,463.8 L1952.0,464.9 L1955.0,464.6 L1958.0,463.5 L1961.0,463.4 L1964.0,461.2 L1967.0,460.2 L1970.0,461.5 L1973.0,459.0 L1976.0,457.4 L1979.0,460.3 L1982.0,458.1 L1985.0,458.1 L1988.0,456.5 L1991.0,456.1 L1994.0,455.7 L1997.0,455.8 L2000.0,455.4 L2003.0,451.1 L2006.0,453.1 L2009.0,449.9 L2012.0,449.6 L2015.0,452.0 L2018.0,452.2 L2021.0,451.7 L2024.0,456.1 L2027.0,452.9 L2030.0,452.3 L2033.0,449.7 L2036.0,448.8 L2039.0,445.4 L2042.0,445.9 L2045.0,442.9 L2048.0,444.0 L2051.0,441.1 L2054.0,440.7 L2057.0,442.4 L2060.0,440.0 L2063.0,439.1 L2066.0,440.8 L2069.0,438.2 L2072.0,436.3 L2075.0,437.4 L2078.0,434.8 L2081.0,436.8 L2084.0,436.5 L2087.0,434.1 L2090.0,433.6 L2093.0,434.0 L2096.0,433.5 L2099.0,432.0 L2102.0,433.3 L2105.0,430.1 L2108.0,431.5 L2111.0,431.2 L2114.0,431.0 L2117.0,431.3 L2120.0,429.3 L2123.0,431.0 L2126.0,429.9 L2129.0,429.1 L2132.0,428.1 L2135.0,428.0 L2138.0,429.5 L2141.0,427.9 L2144.0,429.0 L2147.0,429.9 L2150.0,429.8 L2153.0,430.1 L2156.0,427.0 L2159.0,423.7 L2162.0,424.4 L2165.0,423.3 L2168.0,424.0 L2171.0,422.6 L2174.0,423.7 L2177.0,423.3 L2180.0,423.0 L2183.0,422.6 L2186.0,422.2 L2189.0,421.7 L2192.0,421.0 L2195.0,421.0 L2198.0,418.7 L2201.0,420.8 L2204.0,418.5 L2207.0,419.4 L2208.0,418.2"/>
<path class="c" stroke="#7030a0" d="M347.0,1305.3 L350.0,1305.3 L353.0,1305.3 L356.0,1305.3 L359.0,1305.3 L362.0,1305.3 L365.0,1305.3 L368.0,1305.3 L371.0,1305.3 L374.0,1305.3 L377.0,1305.3 L380.0,1305.3 L383.0,1305.3 L386.0,1305.3 L389.0,1305.3 L392.0,1305.3 L395.0,1305.3 L398.0,1305.3 L401.0,1305.3 L404.0,1305.3 L407.0,1305.3 L410.0,1305.3 L413.0,1305.3 L416.0,1305.3 L419.0,1305.3 L422.0,1305.3 L425.0,1305.3 L428.0,1305.3 L431.0,1305.3 L434.0,1305.3 L437.0,1305.3 L440.0,1305.3 L443.0,1305.3 L446.0,1305.3 L449.0,1305.3 L452.0,1305.3 L455.0,1305.3 L458.0,1305.3 L461.0,1305.3 L464.0,1305.3 L467.0,1305.3 L470.0,1305.3 L473.0,1305.3 L476.0,1305.3 L479.0,1305.3 L482.0,1305.3 L485.0,1305.3 L488.0,1305.3 L491.0,1305.3 L494.0,1305.3 L497.0,1305.3 L500.0,1305.3 L503.0,1305.3 L506.0,1305.3 L509.0,1305.3 L512.0,1305.3 L515.0,1305.3 L518.0,1305.3 L521.0,1305.3 L524.0,1305.3 L527.0,1305.3 L530.0,1305.3 L533.0,1305.3 L536.0,1305.3 L539.0,1305.3 L542.0,1305.3 L545.0,1305.3 L548.0,1305.3 L551.0,1305.3 L554.0,1305.3 L557.0,1305.3 L560.0,1305.3 L563.0,1305.3 L566.0,1305.3 L569.0,1305.3 L572.0,1305.3 L575.0,1305.3 L578.0,1305.3 L581.0,1305.3 L584.0,1305.3 L587.0,1305.3 L590.0,1305.3 L593.0,1305.3 L596.0,1305.3 L599.0,1305.3 L602.0,1305.3 L605.0,1305.3 L608.0,1305.3 L611.0,1305.3 L614.0,1305.3 L617.0,1305.3 L620.0,1305.3 L623.0,1305.3 L626.0,1305.3 L629.0,1305.3 L632.0,1305.3 L635.0,1305.3 L638.0,1305.3 L641.0,1305.3 L644.0,1305.3 L647.0,1305.3 L650.0,1305.3 L653.0,1305.3 L656.0,1305.3 L659.0,1305.3 L662.0,1305.3 L665.0,1305.3 L668.0,1305.3 L671.0,1305.3 L674.0,1305.3 L677.0,1305.3 L680.0,1305.3 L683.0,1305.3 L686.0,1305.3 L689.0,1305.3 L692.0,1305.3 L695.0,1305.3 L698.0,1305.3 L701.0,1305.3 L704.0,1305.3 L707.0,1305.3 L710.0,1305.3 L713.0,1305.3 L716.0,1305.3 L719.0,1305.3 L722.0,1305.3 L725.0,1305.3 L728.0,1305.3 L731.0,1305.3 L734.0,1305.3 L737.0,1305.3 L740.0,1305.3 L743.0,1305.3 L746.0,1305.3 L749.0,1305.3 L752.0,1305.3 L755.0,1305.3 L758.0,1305.3 L761.0,1305.3 L764.0,1305.3 L767.0,1305.3 L770.0,1305.3 L773.0,1305.3 L776.0,1305.3 L779.0,1305.3 L782.0,1305.3 L785.0,1305.3 L788.0,1305.3 L791.0,1305.1 L794.0,1304.9 L797.0,1304.7 L800.0,1304.5 L803.0,1304.2 L806.0,1303.8 L809.0,1303.4 L812.0,1302.9 L815.0,1302.2 L818.0,1301.6 L821.0,1300.9 L824.0,1300.2 L827.0,1299.5 L830.0,1298.8 L833.0,1298.0 L836.0,1297.2 L839.0,1296.3 L842.0,1295.4 L845.0,1294.5 L848.0,1293.6 L851.0,1292.7 L854.0,1291.9 L857.0,1291.1 L860.0,1290.3 L863.0,1289.5 L866.0,1288.7 L869.0,1287.9 L872.0,1287.1 L875.0,1286.3 L878.0,1285.5 L881.0,1284.6 L884.0,1283.9 L887.0,1283.0 L890.0,1282.2 L893.0,1281.2 L896.0,1280.1 L899.0,1278.8 L902.0,1277.4 L905.0,1276.0 L908.0,1274.6 L911.0,1273.3 L914.0,1272.1 L917.0,1270.8 L920.0,1269.6 L923.0,1268.5 L926.0,1267.5 L929.0,1266.6 L932.0,1265.9 L935.0,1265.2 L938.0,1264.5 L941.0,1263.8 L944.0,1263.1 L947.0,1262.4 L950.0,1261.6 L953.0,1260.9 L956.0,1260.1 L959.0,1259.4 L962.0,1258.8 L965.0,1258.1 L968.0,1257.5 L971.0,1256.9 L974.0,1256.3 L977.0,1255.7 L980.0,1255.2 L983.0,1254.6 L986.0,1254.0 L989.0,1253.4 L992.0,1252.8 L995.0,1252.1 L998.0,1251.4 L1001.0,1250.6 L1004.0,1249.8 L1007.0,1249.1 L1010.0,1248.3 L1013.0,1247.5 L1016.0,1246.7 L1019.0,1245.9 L1022.0,1245.1 L1025.0,1244.5 L1028.0,1244.0 L1031.0,1243.5 L1034.0,1243.0 L1037.0,1242.6 L1040.0,1242.3 L1043.0,1242.2 L1046.0,1242.3 L1049.0,1242.7 L1052.0,1243.2 L1055.0,1243.5 L1058.0,1243.5 L1061.0,1243.5 L1064.0,1243.4 L1067.0,1243.3 L1070.0,1243.1 L1073.0,1242.9 L1076.0,1242.7 L1079.0,1242.5 L1082.0,1241.9 L1085.0,1241.3 L1088.0,1240.5 L1091.0,1239.8 L1094.0,1239.2 L1097.0,1238.5 L1100.0,1237.9 L1103.0,1237.3 L1106.0,1236.7 L1109.0,1236.2 L1112.0,1235.7 L1115.0,1235.2 L1118.0,1234.7 L1121.0,1234.3 L1124.0,1233.8 L1127.0,1233.5 L1130.0,1233.1 L1133.0,1232.8 L1136.0,1232.4 L1139.0,1232.1 L1142.0,1231.9 L1145.0,1231.7 L1148.0,1231.5 L1151.0,1231.4 L1154.0,1231.3 L1157.0,1231.2 L1160.0,1231.0 L1163.0,1230.8 L1166.0,1230.5 L1169.0,1230.2 L1172.0,1229.8 L1175.0,1229.4 L1178.0,1229.0 L1181.0,1228.7 L1184.0,1228.3 L1187.0,1228.0 L1190.0,1227.7 L1193.0,1227.4 L1196.0,1227.0 L1199.0,1226.6 L1202.0,1226.1 L1205.0,1225.5 L1208.0,1224.7 L1211.0,1223.6 L1214.0,1222.2 L1217.0,1220.7 L1220.0,1219.2 L1223.0,1217.6 L1226.0,1215.9 L1229.0,1214.1 L1232.0,1212.1 L1235.0,1210.1 L1238.0,1208.2 L1241.0,1206.2 L1244.0,1204.2 L1247.0,1202.1 L1250.0,1200.1 L1253.0,1198.0 L1256.0,1196.0 L1259.0,1194.0 L1262.0,1192.1 L1265.0,1190.1 L1268.0,1188.1 L1271.0,1186.2 L1274.0,1184.4 L1277.0,1182.5 L1280.0,1180.7 L1283.0,1178.9 L1286.0,1177.1 L1289.0,1175.4 L1292.0,1173.7 L1295.0,1172.1 L1298.0,1170.5 L1301.0,1168.9 L1304.0,1167.3 L1307.0,1165.6 L1310.0,1163.8 L1313.0,1162.1 L1316.0,1160.3 L1319.0,1158.4 L1322.0,1156.5 L1325.0,1154.5 L1328.0,1152.5 L1331.0,1150.3 L1334.0,1148.2 L1337.0,1146.0 L1340.0,1143.7 L1343.0,1141.4 L1346.0,1139.1 L1349.0,1136.7 L1352.0,1134.2 L1355.0,1131.7 L1358.0,1129.1 L1361.0,1126.3 L1364.0,1123.6 L1367.0,1120.8 L1370.0,1118.1 L1373.0,1115.4 L1376.0,1112.8 L1379.0,1110.2 L1382.0,1107.6 L1385.0,1105.0 L1388.0,1102.5 L1391.0,1100.1 L1394.0,1097.7 L1397.0,1095.3 L1400.0,1092.6 L1403.0,1089.8 L1406.0,1086.8 L1409.0,1083.7 L1412.0,1080.4 L1415.0,1076.9 L1418.0,1073.3 L1421.0,1069.4 L1424.0,1065.2 L1427.0,1060.8 L1430.0,1056.2 L1433.0,1051.5 L1436.0,1046.7 L1439.0,1041.7 L1442.0,1036.5 L1445.0,1031.1 L1448.0,1025.6 L1451.0,1020.1 L1454.0,1014.6 L1457.0,1008.9 L1460.0,1003.0 L1463.0,997.2 L1466.0,991.4 L1469.0,985.8 L1472.0,980.2 L1475.0,974.7 L1478.0,969.3 L1481.0,963.9 L1484.0,958.5 L1487.0,953.1 L1490.0,947.5 L1493.0,941.9 L1496.0,936.5 L1499.0,931.4 L1502.0,926.8 L1505.0,922.5 L1508.0,918.4 L1511.0,914.7 L1514.0,911.5 L1517.0,908.5 L1520.0,905.8 L1523.0,903.6 L1526.0,902.1 L1529.0,900.9 L1532.0,899.9 L1535.0,899.3 L1538.0,899.2 L1541.0,899.2 L1544.0,899.2 L1547.0,899.2 L1550.0,899.9 L1553.0,901.4 L1556.0,903.0 L1559.0,904.5 L1562.0,906.2 L1565.0,907.7 L1568.0,908.7 L1571.0,909.5 L1574.0,909.6 L1577.0,908.0 L1580.0,905.0 L1583.0,899.3 L1586.0,891.1 L1589.0,880.7 L1592.0,869.1 L1595.0,856.0 L1598.0,841.5 L1601.0,826.2 L1604.0,811.2 L1607.0,798.6 L1610.0,787.5 L1613.0,777.4 L1616.0,767.7 L1619.0,759.2 L1622.0,752.2 L1625.0,746.1 L1628.0,740.7 L1631.0,736.0 L1634.0,731.7 L1637.0,727.8 L1640.0,724.3 L1643.0,720.9 L1646.0,717.7 L1649.0,714.6 L1652.0,711.7 L1655.0,709.0 L1658.0,706.3 L1661.0,703.8 L1664.0,701.4 L1667.0,699.1 L1670.0,696.9 L1673.0,694.7 L1676.0,692.7 L1679.0,690.6 L1682.0,688.4 L1685.0,686.9 L1688.0,684.9 L1691.0,683.4 L1694.0,681.9 L1697.0,680.1 L1700.0,678.4 L1703.0,676.7 L1706.0,675.1 L1709.0,673.3 L1712.0,671.7 L1715.0,670.0 L1718.0,668.7 L1721.0,666.9 L1724.0,665.5 L1727.0,663.8 L1730.0,662.4 L1733.0,660.9 L1736.0,659.7 L1739.0,658.4 L1742.0,656.9 L1745.0,655.4 L1748.0,654.0 L1751.0,653.3 L1754.0,651.5 L1757.0,650.2 L1760.0,649.4 L1763.0,648.0 L1766.0,646.6 L1769.0,645.0 L1772.0,644.6 L1775.0,642.7 L1778.0,641.5 L1781.0,640.0 L1784.0,638.3 L1787.0,637.1 L1790.0,636.5 L1793.0,635.3 L1796.0,633.8 L1799.0,632.2 L1802.0,630.9 L1805.0,630.2 L1808.0,628.5 L1811.0,628.3 L1814.0,627.2 L1817.0,626.8 L1820.0,624.7 L1823.0,622.9 L1826.0,621.6 L1829.0,619.2 L1832.0,619.3 L1835.0,618.3 L1838.0,617.6 L1841.0,616.2 L1844.0,615.0 L1847.0,613.6 L1850.0,612.6 L1853.0,611.9 L1856.0,609.4 L1859.0,608.6 L1862.0,607.0 L1865.0,607.6 L1868.0,606.4 L1871.0,605.1 L1874.0,603.0 L1877.0,602.8 L1880.0,601.6 L1883.0,600.8 L1886.0,599.7 L1889.0,599.1 L1892.0,597.6 L1895.0,597.5 L1898.0,596.1 L1901.0,594.8 L1904.0,594.0 L1907.0,592.9 L1910.0,592.8 L1913.0,591.2 L1916.0,590.7 L1919.0,589.3 L1922.0,587.6 L1925.0,588.4 L1928.0,586.1 L1931.0,586.5 L1934.0,585.5 L1937.0,583.1 L1940.0,582.7 L1943.0,582.2 L1946.0,581.1 L1949.0,580.0 L1952.0,580.7 L1955.0,579.1 L1958.0,578.7 L1961.0,577.3 L1964.0,577.0 L1967.0,575.3 L1970.0,575.1 L1973.0,574.7 L1976.0,573.4 L1979.0,572.2 L1982.0,570.8 L1985.0,571.0 L1988.0,570.3 L1991.0,569.0 L1994.0,567.7 L1997.0,568.0 L2000.0,568.9 L2003.0,565.5 L2006.0,565.3 L2009.0,564.5 L2012.0,561.0 L2015.0,562.6 L2018.0,561.0 L2021.0,562.0 L2024.0,559.7 L2027.0,558.4 L2030.0,558.0 L2033.0,557.5 L2036.0,556.0 L2039.0,555.6 L2042.0,553.6 L2045.0,553.8 L2048.0,553.9 L2051.0,554.2 L2054.0,552.3 L2057.0,551.1 L2060.0,551.1 L2063.0,550.2 L2066.0,550.0 L2069.0,548.7 L2072.0,546.8 L2075.0,546.4 L2078.0,545.6 L2081.0,545.0 L2084.0,544.2 L2087.0,542.6 L2090.0,540.8 L2093.0,541.5 L2096.0,539.8 L2099.0,541.1 L2102.0,540.6 L2105.0,538.7 L2108.0,540.4 L2111.0,540.1 L2114.0,539.0 L2117.0,540.1 L2120.0,539.9 L2123.0,536.7 L2126.0,538.4 L2129.0,537.4 L2132.0,537.0 L2135.0,537.0 L2138.0,535.0 L2141.0,534.6 L2144.0,533.8 L2147.0,533.2 L2150.0,533.2 L2153.0,531.4 L2156.0,531.1 L2159.0,531.9 L2162.0,530.7 L2165.0,530.5 L2168.0,527.9 L2171.0,528.4 L2174.0,528.1 L2177.0,528.1 L2180.0,527.0 L2183.0,527.9 L2186.0,526.5 L2189.0,526.1 L2192.0,525.6 L2195.0,525.8 L2198.0,524.3 L2201.0,525.3 L2204.0,524.3 L2207.0,523.6 L2208.0,523.3"/>
</g>
<path class="lg" stroke="#808080" d="M1783,926.3 H1861.5"/>
<text class="tick" x="1870" y="945.1" textLength="82" lengthAdjust="spacingAndGlyphs">3K</text>
<path class="lg" stroke="#ff33ff" d="M1783,1026.0 H1861.5"/>
<text class="tick" x="1870" y="1044.8" textLength="321" lengthAdjust="spacingAndGlyphs">3K-0.5GPE</text>
<path class="lg" stroke="#c000c0" d="M1783,1125.6 H1861.5"/>
<text class="tick" x="1870" y="1144.4" textLength="321" lengthAdjust="spacingAndGlyphs">3K-1.0GPE</text>
<path class="lg" stroke="#7030a0" d="M1783,1225.2 H1861.5"/>
<text class="tick" x="1870" y="1244.0" textLength="321" lengthAdjust="spacingAndGlyphs">3K-1.5GPE</text>
</svg></body></html>
